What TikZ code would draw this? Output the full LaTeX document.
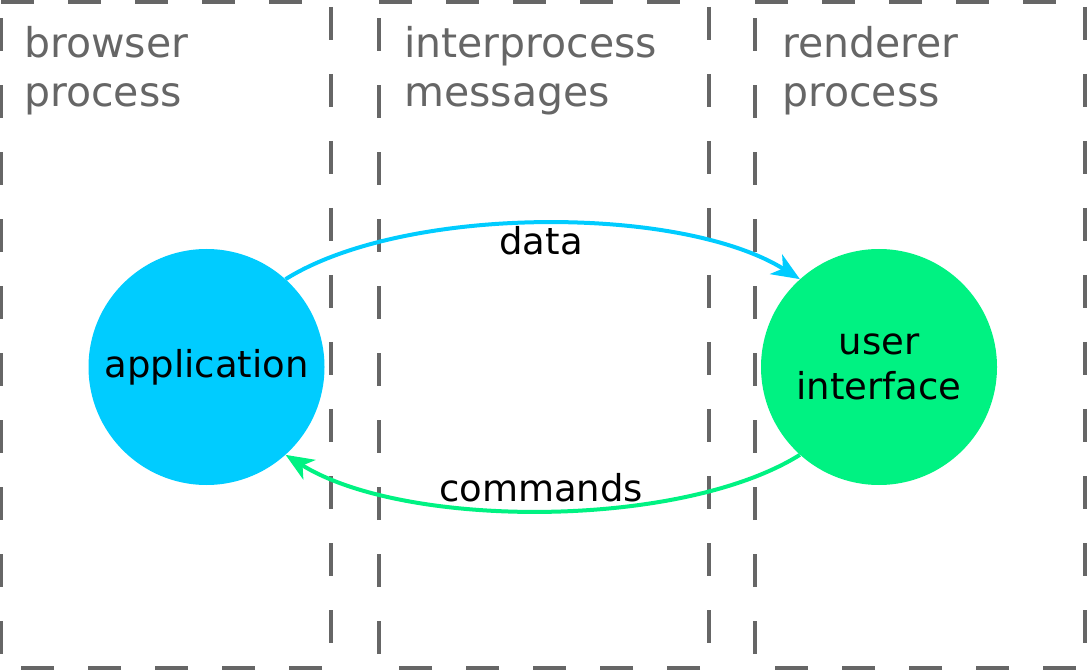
\documentclass[tikz,border=0pt]{standalone}
\usepackage{fontspec}
\setmainfont{DejaVu Sans}
\usetikzlibrary{arrows.meta}
\definecolor{boxgray}{HTML}{666666}
\definecolor{appblue}{HTML}{00CCFF}
\definecolor{uigreen}{HTML}{00F282}

\begin{document}
\begin{tikzpicture}[x=1pt, y=1pt,
    area/.style={draw=boxgray, line width=4pt, dash pattern=on 33pt off 34pt},
    areatitle/.style={text=boxgray, anchor=base west, align=left, inner sep=0pt, font=\fontsize{41}{49}\selectfont},
    proc/.style={circle, minimum size=236pt, inner sep=0pt, align=center, font=\fontsize{37}{45}\selectfont},
    msg/.style={line width=4pt, -{Stealth[length=28pt, width=23pt, inset=8pt]}, bend left=32, looseness=0.7},
    msglabel/.style={font=\fontsize{37}{45}\selectfont, inner sep=0pt, anchor=base}]
    \useasboundingbox (0, 0) rectangle (1087, 670);
    % the three areas
    \draw[area] (1, 668) -- (331, 668) -- (331, 2) -- (1, 2) -- cycle;
    \draw[area] (379, 668) -- (709, 668) -- (709, 2) -- (379, 2) -- cycle;
    \draw[area] (755, 668) -- (1085, 668) -- (1085, 2) -- (755, 2) -- cycle;
    \node[areatitle] (browser) at (24, 563) {browser\\process};
    \node[areatitle] (ipc) at (404, 563) {interprocess\\messages};
    \node[areatitle] (renderer) at (782, 563) {renderer\\process};
    % processes
    \node[proc, fill=appblue] (app) at (206.5, 303) {application};
    \node[proc, fill=uigreen] (ui) at (879, 303) {user\\interface};
    % messages
    \draw[msg, appblue] (app.48) to (ui.132);
    \draw[msg, uigreen] (ui.228) to (app.312);
    \node[msglabel] (data) at (541, 415) {data};
    \node[msglabel] (commands) at (541, 169) {commands};
\end{tikzpicture}
\end{document}
